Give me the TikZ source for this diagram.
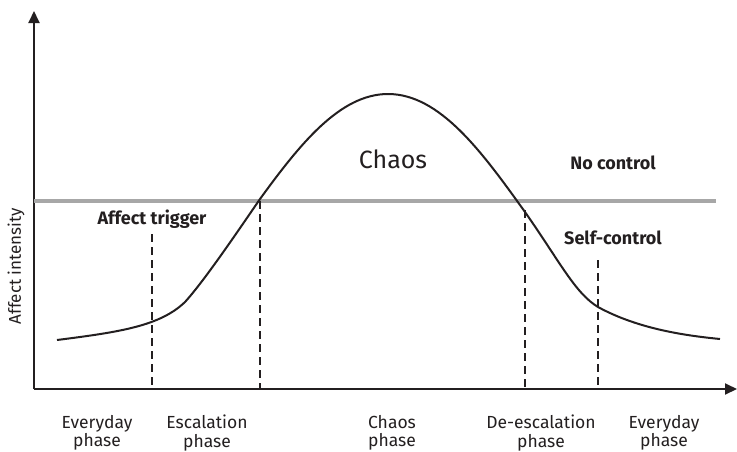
\documentclass[tikz,border=0pt]{standalone}
\usepackage{fontspec}
\setmainfont{Fira Sans}
\usetikzlibrary{arrows.meta}
\definecolor{ink}{HTML}{231F20}
\definecolor{refgray}{HTML}{A7A7A7}
\tikzset{
  axisline/.style={draw=ink, line width=2pt, -{Triangle[length=12pt,width=11pt]}},
  curveline/.style={draw=ink, line width=2pt},
  dashline/.style={draw=ink, line width=1.5pt, dash pattern=on 8pt off 5pt},
  graybar/.style={draw=refgray, line width=4pt},
  phaselbl/.style={text=ink, font=\fontsize{17.5}{18.5}\selectfont, align=center, inner sep=0pt},
  boldlbl/.style={text=ink, font=\fontsize{18}{19}\selectfont\bfseries, inner sep=0pt},
}
\begin{document}
\begin{tikzpicture}[x=1pt,y=-1pt]
\useasboundingbox (0,0) rectangle (737,451);
% axes
\coordinate (O) at (34,389);
\coordinate (Ytip) at (34,11);
\coordinate (Xtip) at (737,389);
\draw[axisline] (O) -- (Ytip);
\draw[axisline] (O) -- (Xtip);
% gray threshold
\coordinate (G1) at (34,201);
\coordinate (G2) at (716,201);
\draw[graybar] (G1) -- (G2);
% dashed phase separators
\coordinate (d1t) at (152,234); \coordinate (d1b) at (152,389);
\coordinate (d2t) at (260,201); \coordinate (d2b) at (260,389);
\coordinate (d3t) at (525,210); \coordinate (d3b) at (525,389);
\coordinate (d4t) at (598,260); \coordinate (d4b) at (598,389);
\draw[dashline] (d1t) -- (d1b);
\draw[dashline] (d2t) -- (d2b);
\draw[dashline] (d3t) -- (d3b);
\draw[dashline] (d4t) -- (d4b);
% curve
\coordinate (c0) at (57,340);
\coordinate (c1) at (185,302);
\coordinate (c2) at (260,199);
\coordinate (c3) at (388,94);
\coordinate (c4) at (525,212);
\coordinate (c5) at (598,307);
\coordinate (c6) at (720,339);
\draw[curveline] (c0) .. controls (120,332) and (160,326) .. (c1)
  .. controls (205,280) and (240,228) .. (c2)
  .. controls (300,144) and (340,94) .. (c3)
  .. controls (440,94) and (482,152) .. (c4)
  .. controls (560,262) and (575,293) .. (c5)
  .. controls (640,330) and (690,336) .. (c6);
% labels
\node[text=ink, font=\fontsize{17}{19}\selectfont, rotate=90, inner sep=0pt] (ylab) at (16,266) {Affect intensity};
\node[boldlbl] (trig) at (152,219) {Affect trigger};
\node[text=ink, font=\fontsize{25}{27}\selectfont, inner sep=0pt] (chaos) at (393,159) {Chaos};
\node[boldlbl] (noc) at (613,163) {No control};
\node[boldlbl] (selfc) at (613,238) {Self-control};
\node[phaselbl] (p1) at (97,433) {Everyday\\phase};
\node[phaselbl] (p2) at (207,433) {Escalation\\phase};
\node[phaselbl] (p3) at (392,433) {Chaos\\phase};
\node[phaselbl] (p4) at (541,433) {De-escalation\\phase};
\node[phaselbl] (p5) at (664,433) {Everyday\\phase};
\end{tikzpicture}
\end{document}
